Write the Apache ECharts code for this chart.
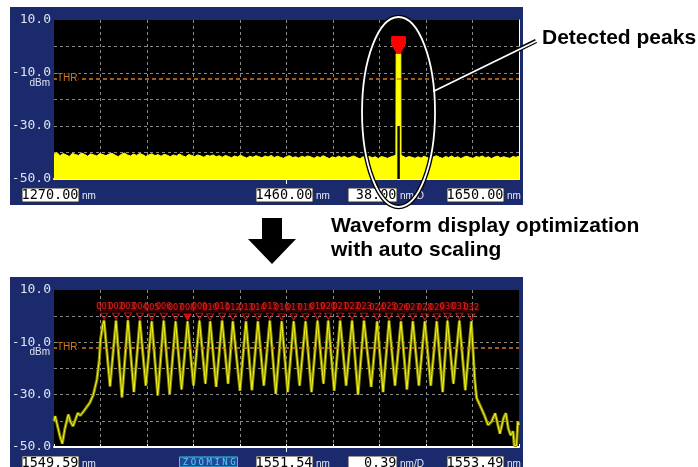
<!DOCTYPE html>
<html><head><meta charset="utf-8">
<script src="https://cdn.jsdelivr.net/npm/echarts@6/dist/echarts.min.js"></script>
<style>html,body{margin:0;padding:0;background:#fff}#c{width:698px;height:467px}</style>
</head><body><div id="c"></div>
<script>
// ---------- axis settings / tick labels ----------
const topXMin = 1270, topXMax = 1650, topXStep = 38;
const botXMin = 1549.59, botXMax = 1553.49, botXStep = 0.39;
const yMin = -50, yMax = 10, yStep = 10;
const yLabelValues = [10, -10, -30, -50];
const thrDb = -12;
const topReadouts = ['1270.00', '1460.00', '38.00', '1650.00'];
const botReadouts = ['1549.59', '1551.54', '0.39', '1553.49'];
const readoutUnits = ['nm', 'nm', 'nm/D', 'nm'];

// ---------- top panel: wide span trace ----------
const topNoiseStartNm = 1270, topNoiseStepNm = 2.5;
const topNoiseDb = [
 -40.6,-40.1,-41.2,-40.4,-40.9,-41.5,-40.3,-40.8,-41.1,-40.2,-40.7,-41.4,-40.5,-40.9,-41.3,-40.4,-40.8,
 -41.2,-40.6,-40.3,-41.0,-41.6,-40.7,-40.2,-40.9,-41.3,-40.6,-41.1,-40.4,-40.8,-41.5,-40.9,-40.5,-41.2,
 -40.8,-41.4,-40.7,-41.0,-41.6,-40.9,-41.3,-40.6,-41.2,-41.7,-40.8,-41.1,-41.5,-40.9,-41.3,-41.8,-41.0,
 -41.4,-40.9,-41.6,-41.2,-41.8,-41.1,-41.5,-42.0,-41.3,-41.7,-41.0,-41.6,-42.1,-41.4,-41.8,-41.2,-41.6,
 -42.0,-41.3,-41.7,-41.1,-41.9,-41.4,-41.8,-42.2,-41.5,-41.2,-41.9,-41.6,-42.1,-41.4,-41.8,-41.3,-41.7,
 -42.2,-41.5,-41.9,-41.2,-41.8,-42.3,-41.6,-42.0,-41.4,-41.9,-41.5,-42.1,-41.7,-41.3,-41.9,-42.4,-41.6,
 -41.9,-41.4,-42.0,-41.6,-42.3,-41.5,-41.8,-42.2,-41.7,-41.3,-41.9,-42.4,-41.6,-42.0,-41.5,-41.8,-42.2,
 -41.6,-42.1,-41.4,-41.9,-42.3,-41.7,-41.2,-41.8,-42.2,-41.5,-41.9,-41.3,-42.0,-41.6,-42.3,-41.7,-41.4,
 -41.9,-42.2,-41.5,-41.8,-41.3,-42.0,-41.6,-42.3,-41.7,-41.4,-42.0,-41.6,-41.9,-42.2,-41.5,-41.8,-41.4
];
const topPeakNm = [1549.4, 1549.6, 1553.4, 1553.6];
const topPeakDb = [-41.0, -2.7, -2.7, -41.0];
const topGapNm = [1550.6, 1552.6];
const topGapDb = [-30, -30];
const topMarkerDb = -2.7;

// ---------- bottom panel: zoomed comb trace ----------
const combPeakNm = [1550.01,1550.11,1550.21,1550.31,1550.41,1550.51,1550.61,1550.71,1550.81,1550.90,1551.00,1551.09,1551.20,1551.30,1551.40,1551.50,
                    1551.60,1551.70,1551.80,1551.89,1551.99,1552.09,1552.19,1552.30,1552.40,1552.50,1552.60,1552.70,1552.80,1552.89,1552.99,1553.09];
const combPeakDb = [-1.7,-1.7,-1.6,-1.7,-2.0,-1.7,-2.0,-2.0,-1.7,-2.0,-1.7,-2.0,-2.0,-2.0,-1.7,-2.0,
                    -2.0,-2.0,-1.7,-1.7,-1.7,-1.7,-1.7,-2.0,-1.7,-2.0,-2.0,-2.0,-2.0,-1.7,-1.7,-2.0];
const combTroughNm = [1550.06,1550.16,1550.26,1550.36,1550.46,1550.56,1550.66,1550.76,1550.86,1550.95,1551.05,1551.15,1551.25,1551.35,1551.45,1551.55,
                      1551.65,1551.75,1551.85,1551.94,1552.04,1552.14,1552.25,1552.35,1552.45,1552.55,1552.65,1552.75,1552.85,1552.94,1553.04];
const combTroughDb = [-26.8,-31.0,-29.0,-26.5,-30.3,-29.7,-28.0,-26.5,-25.8,-27.0,-25.8,-28.5,-28.3,-26.5,-29.7,-29.0,
                      -26.5,-29.0,-25.8,-28.5,-26.5,-30.0,-27.0,-29.0,-26.5,-28.0,-26.5,-26.5,-29.0,-25.8,-28.3];
const leftTailNm = [1549.59,1549.60,1549.64,1549.66,1549.68,1549.71,1549.73,1549.75,1549.77,1549.79,1549.81,1549.84,1549.86,1549.89,1549.92,1549.95,1549.97,1549.98,1550.00];
const leftTailDb = [-40.0,-38.2,-45.9,-48.7,-43.3,-37.6,-40.6,-42.0,-39.5,-37.0,-38.0,-36.3,-35.0,-33.1,-30.0,-24.2,-16.6,-9.0,-3.0];
const rightTailNm = [1553.12,1553.135,1553.16,1553.20,1553.23,1553.26,1553.29,1553.31,1553.33,1553.36,1553.38,1553.40,1553.42,1553.44,1553.45,1553.47,1553.48,1553.49];
const rightTailDb = [-24.8,-31.3,-33.8,-37.9,-41.6,-40.3,-37.1,-41.0,-44.9,-39.0,-37.1,-42.9,-45.5,-44.0,-49.4,-49.4,-40.3,-41.6];
const peakLabels = ['001','002','003','004','005','006','007','008','009','010','011','012','013','014','015','016',
                    '017','018','019','020','021','022','023','024','025','026','027','028','029','030','031','032'];
const selectedPeak = '008';

// ---------- build series data ----------
const topTrace = [];
topNoiseDb.forEach((v, i) => {
  const nm = topNoiseStartNm + i * topNoiseStepNm;
  if (nm < topPeakNm[0] || nm > topPeakNm[topPeakNm.length - 1]) topTrace.push([nm, v]);
});
topPeakNm.forEach((nm, i) => topTrace.push([nm, topPeakDb[i]]));
topTrace.sort((a, b) => a[0] - b[0]);
const topGap = topGapNm.map((nm, i) => [nm, topGapDb[i]]);
const topMarkers = combPeakNm.map(nm => [nm, topMarkerDb]);

const botTrace = [];
leftTailNm.forEach((nm, i) => botTrace.push([nm, leftTailDb[i]]));
combPeakNm.forEach((nm, i) => botTrace.push([nm, combPeakDb[i]]));
combTroughNm.forEach((nm, i) => botTrace.push([nm, combTroughDb[i]]));
rightTailNm.forEach((nm, i) => botTrace.push([nm, rightTailDb[i]]));
botTrace.sort((a, b) => a[0] - b[0]);
const botMarkers = combPeakNm.map((nm, i) => {
  const d = { value: [nm, combPeakDb[i]] };
  if (peakLabels[i] === selectedPeak) d.itemStyle = { color: '#ff0000' };
  return d;
});

// ---------- styling ----------
const LABEL_COLOR = '#dde2ee';
const GRID_LINE = { show: true, showMinLine: false, showMaxLine: false, lineStyle: { color: '#8a8a8a', type: [3, 3], width: 1 } };
function xAxisCfg(grid, min, max, step) {
  return { gridIndex: grid, type: 'value', min: min, max: max, interval: step,
    axisLine: { show: true, onZero: false, lineStyle: { color: '#ffffff', width: 2 } },
    axisTick: { show: true, inside: true, length: 3, lineStyle: { color: '#ffffff', width: 1 } },
    axisLabel: { show: false }, splitLine: GRID_LINE };
}
function yAxisCfg(grid) {
  return { gridIndex: grid, type: 'value', min: yMin, max: yMax, interval: yStep,
    axisLine: { show: false, onZero: false }, axisTick: { show: false }, splitLine: GRID_LINE,
    axisLabel: { show: true, showMinLabel: true, showMaxLabel: true, margin: 3,
      color: LABEL_COLOR, fontFamily: 'DejaVu Sans Mono', fontSize: 13,
      formatter: v => yLabelValues.indexOf(v) >= 0 ? v.toFixed(1) : '' } };
}
const thrMark = { silent: true, symbol: 'none', label: { show: false },
  lineStyle: { color: '#d47a1e', type: [4, 3], width: 1.5 }, data: [{ yAxis: thrDb }], animation: false };

const chart = echarts.init(document.getElementById('c'));
chart.setOption({
  animation: false,
  backgroundColor: 'transparent',
  grid: [
    { left: 54, top: 20, width: 465, height: 159, show: true, backgroundColor: '#000000', borderWidth: 0 },
    { left: 54, top: 290, width: 465, height: 157, show: true, backgroundColor: '#000000', borderWidth: 0 }
  ],
  xAxis: [ xAxisCfg(0, topXMin, topXMax, topXStep), xAxisCfg(1, botXMin, botXMax, botXStep) ],
  yAxis: [
    yAxisCfg(0),
    { gridIndex: 0, type: 'value', position: 'right', min: yMin, max: yMax, interval: yStep,
      axisLine: { show: true, onZero: false, lineStyle: { color: '#ffffff', width: 1 } }, axisTick: { show: false },
      axisLabel: { show: false }, splitLine: { show: false } },
    yAxisCfg(1)
  ],
  series: [
    { type: 'line', xAxisIndex: 0, yAxisIndex: 0, data: topTrace, symbol: 'none',
      lineStyle: { color: '#ffff00', width: 1 }, areaStyle: { color: '#ffff00', opacity: 1, origin: 'start' },
      markLine: thrMark, z: 2 },
    { type: 'line', xAxisIndex: 0, yAxisIndex: 0, data: topGap, symbol: 'none',
      lineStyle: { opacity: 0 }, areaStyle: { color: '#000000', opacity: 1, origin: 'start' }, z: 3 },
    { type: 'scatter', xAxisIndex: 0, yAxisIndex: 0, data: topMarkers,
      symbol: 'path://M0,0 L12,0 L12,7 L6,17 L0,7 Z', symbolSize: [11, 17], symbolOffset: [0, -8.5],
      itemStyle: { color: '#ff0000' }, z: 5 },
    { type: 'line', xAxisIndex: 1, yAxisIndex: 2, data: botTrace, symbol: 'none',
      lineStyle: { color: '#8a8a00', width: 3 }, z: 2 },
    { type: 'line', xAxisIndex: 1, yAxisIndex: 2, data: botTrace, symbol: 'none',
      lineStyle: { color: '#f4f41c', width: 1 }, markLine: thrMark, z: 3 },
    { type: 'scatter', xAxisIndex: 1, yAxisIndex: 2, data: botMarkers,
      symbol: 'path://M0,0 L10,0 L5,9 Z', symbolSize: [7, 6], symbolOffset: [0, -4.5],
      itemStyle: { color: 'rgba(0,0,0,0)', borderColor: '#ff1a1a', borderWidth: 1 }, z: 5 },
    { type: 'scatter', xAxisIndex: 1, yAxisIndex: 2, data: combPeakNm.map((nm, i) => [nm, combPeakDb[i]]),
      symbol: 'circle', symbolSize: 1, itemStyle: { color: 'rgba(0,0,0,0)' }, z: 6,
      label: { show: true, position: 'inside', offset: [0, -13.5], formatter: p => peakLabels[p.dataIndex],
        color: '#ff2a2a', fontSize: 9, fontFamily: '"Liberation Sans Narrow","DejaVu Sans Condensed",sans-serif',
        backgroundColor: 'rgba(120,0,0,0.55)', padding: [0, 0] } }
  ]
});

// ---------- overlays: panels, readouts, annotations ----------
const g = [];
const NAVY = '#1b2a6c';
g.push({ type: 'rect', z: -1, shape: { x: 10, y: 7, width: 513, height: 198 }, style: { fill: NAVY } });
g.push({ type: 'rect', z: -1, shape: { x: 10, y: 277, width: 513, height: 192 }, style: { fill: NAVY } });

function px(xi, yi, pt) { return chart.convertToPixel({ xAxisIndex: xi, yAxisIndex: yi }, pt); }

function panelOverlay(xi, yi, xMin, xMax, readouts) {
  const thrP = px(xi, yi, [xMin, thrDb]);
  const bottom = px(xi, yi, [xMin, yMin])[1];
  const tenP = px(xi, yi, [xMin, -10]);
  const center = px(xi, yi, [(xMin + xMax) / 2, yMin]);
  g.push({ type: 'text', z: 20, x: 57, y: thrP[1],
    style: { text: 'THR', fill: '#d47a1e', font: '10px "Liberation Sans", Arial, sans-serif',
      verticalAlign: 'middle', align: 'left', backgroundColor: '#000', padding: [0, 1, 0, 0] } });
  g.push({ type: 'text', z: 20, x: 50, y: tenP[1] + 10,
    style: { text: 'dBm', fill: LABEL_COLOR, font: '10px "Liberation Sans", Arial, sans-serif', align: 'right', verticalAlign: 'middle' } });
  g.push({ type: 'line', z: 20, shape: { x1: center[0], y1: bottom, x2: center[0], y2: bottom + 5 }, style: { stroke: '#fff', lineWidth: 1 } });
  const boxes = [[22, 57], [256, 57], [348, 49], [447, 57]];
  const by = bottom + 9;
  boxes.forEach((b, i) => {
    g.push({ type: 'rect', z: 20, shape: { x: b[0], y: by, width: b[1], height: 14 }, style: { fill: '#ffffff', stroke: '#303030', lineWidth: 1 } });
    g.push({ type: 'text', z: 21, x: b[0] + b[1] - 0.5, y: by + 7.5,
      style: { text: readouts[i], fill: '#000', font: '13.5px "DejaVu Sans Mono", monospace', align: 'right', verticalAlign: 'middle' } });
    g.push({ type: 'text', z: 21, x: b[0] + b[1] + 3, y: by + 8,
      style: { text: readoutUnits[i], fill: '#e8ecf4', font: '10px "Liberation Sans", Arial, sans-serif', align: 'left', verticalAlign: 'middle' } });
  });
  return { bottom: bottom };
}
panelOverlay(0, 0, topXMin, topXMax, topReadouts);
const bInfo = panelOverlay(1, 2, botXMin, botXMax, botReadouts);

// ZOOMING indicator (letters spaced like the instrument's readout)
const zoomText = 'ZOOMING';
g.push({ type: 'rect', z: 20, shape: { x: 179.5, y: bInfo.bottom + 10, width: 58, height: 10 },
  style: { fill: '#234a9a', stroke: '#39c8ea', lineWidth: 1 } });
zoomText.split('').forEach((ch, i) => {
  g.push({ type: 'text', z: 21, x: 185.5 + i * 7.9, y: bInfo.bottom + 15.5,
    style: { text: ch, fill: '#4fd4f2', font: '9px "DejaVu Sans Mono", monospace', align: 'center', verticalAlign: 'middle' } });
});

// ellipse around detected peak + leader line
const pk = px(0, 0, [(combPeakNm[0] + combPeakNm[combPeakNm.length - 1]) / 2, topMarkerDb]);
const ecx = pk[0], ecy = 112, erx = 36.5, ery = 95;
g.push({ type: 'ellipse', z: 30, shape: { cx: ecx, cy: ecy, rx: erx, ry: ery }, style: { fill: null, stroke: '#000', lineWidth: 4.5 } });
g.push({ type: 'ellipse', z: 31, shape: { cx: ecx, cy: ecy, rx: erx, ry: ery }, style: { fill: null, stroke: '#fff', lineWidth: 1.8 } });
const lyy = 91;
const lx0 = ecx + erx * Math.sqrt(1 - Math.pow((lyy - ecy) / ery, 2));
g.push({ type: 'line', z: 30, shape: { x1: lx0, y1: lyy, x2: 536, y2: 41 }, style: { stroke: '#000', lineWidth: 4.5 } });
g.push({ type: 'line', z: 31, shape: { x1: lx0 - 1, y1: lyy + 0.5, x2: 536.5, y2: 41 }, style: { stroke: '#fff', lineWidth: 1.8 } });
g.push({ type: 'text', z: 30, x: 542, y: 38,
  style: { text: 'Detected peaks', fill: '#000', font: 'bold 21px "Liberation Sans", Arial, sans-serif', align: 'left', verticalAlign: 'middle' } });

// down arrow and caption
g.push({ type: 'polygon', z: 30, shape: { points: [[262, 218], [282, 218], [282, 239], [296, 239], [272, 264], [248, 239], [262, 239]] }, style: { fill: '#000' } });
g.push({ type: 'text', z: 30, x: 331, y: 226,
  style: { text: 'Waveform display optimization', fill: '#000', font: 'bold 21px "Liberation Sans", Arial, sans-serif', align: 'left', verticalAlign: 'middle' } });
g.push({ type: 'text', z: 30, x: 331, y: 250.5,
  style: { text: 'with auto scaling', fill: '#000', font: 'bold 21px "Liberation Sans", Arial, sans-serif', align: 'left', verticalAlign: 'middle' } });

chart.setOption({ graphic: g });
</script>
</body></html>
